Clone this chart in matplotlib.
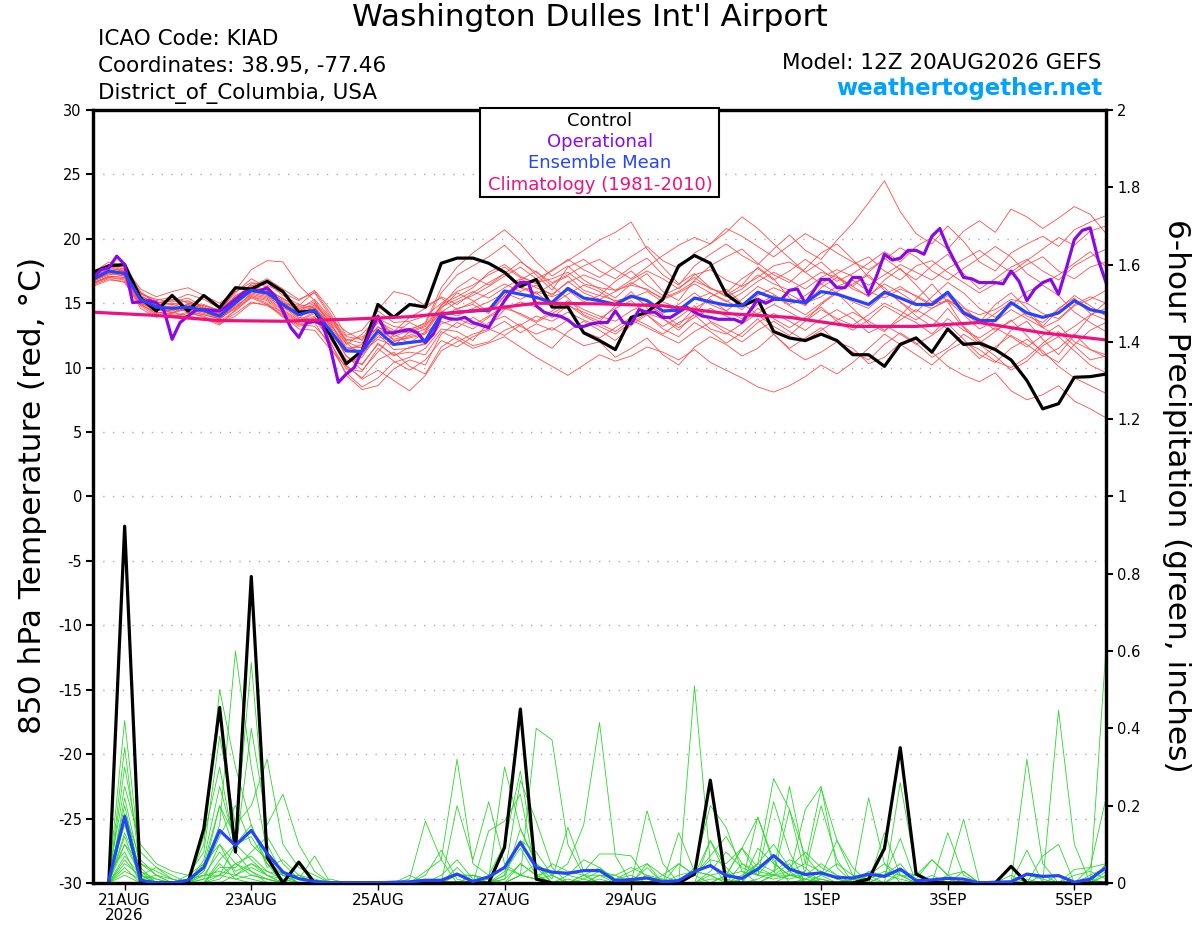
import numpy as np
import matplotlib
matplotlib.use('Agg')
import matplotlib.pyplot as plt
from matplotlib.patches import Rectangle

plt.rcParams['font.family'] = ['DejaVu Sans']
plt.rcParams['axes.unicode_minus'] = False

# x axis in hours after 12Z 20AUG2026
tick_hours = [12, 60, 108, 156, 204, 276, 324, 372]
tick_labels = ['21AUG\n2026', '23AUG', '25AUG', '27AUG', '29AUG', '1SEP', '3SEP', '5SEP']

# 850 hPa temperature, 6-hourly (0..384 h)
control_t = [17.4, 17.9, 18.0, 15.4, 14.4, 15.6, 14.4, 15.6, 14.65, 16.2,
             16.1, 16.7, 15.9, 14.3, 14.4, 12.5, 10.3, 11.3, 14.9, 13.9,
             14.9, 14.7, 18.1, 18.5, 18.5, 18.1, 17.4, 16.3, 16.85, 14.7,
             14.7, 12.7, 12.1, 11.4, 13.9, 14.3, 15.3, 17.9, 18.7, 18.1,
             15.7, 14.8, 15.3, 12.8, 12.3, 12.1, 12.6, 12.1, 11.0, 11.0,
             10.1, 11.8, 12.3, 11.2, 13.0, 11.8, 11.9, 11.4, 10.6, 9.0,
             6.8, 7.2, 9.25, 9.3, 9.5]

mean_t = [16.85, 17.5, 17.3, 15.3, 14.7, 14.6, 14.7, 14.45, 14.0, 15.05,
          16.0, 15.8, 14.9, 14.1, 14.45, 12.85, 11.3, 11.25, 12.85, 11.8,
          11.95, 12.1, 14.15, 14.3, 14.4, 14.45, 15.95, 15.7, 15.45, 15.05,
          16.15, 15.4, 15.2, 14.9, 15.55, 15.2, 14.4, 14.45, 15.4, 15.1,
          14.85, 14.8, 15.85, 15.4, 15.2, 15.05, 15.9, 15.7, 15.3, 14.9,
          15.85, 15.4, 14.9, 14.9, 15.85, 14.25, 13.65, 13.65, 15.05, 14.25,
          13.9, 14.25, 15.2, 14.5, 14.25]

# operational run, 3-hourly (0..384 h)
oper_t = [17.0, 17.6, 17.75, 18.65, 18.0, 15.05, 15.1, 15.2, 15.05, 14.4,
          12.2, 13.5, 14.0, 14.45, 14.5, 14.45, 14.4, 14.8, 15.3, 15.8,
          16.0, 15.95, 16.2, 15.55, 14.4, 13.1, 12.35, 13.5, 13.6, 13.35,
          11.5, 8.85, 9.5, 10.0, 11.3, 12.7, 14.0, 12.7, 12.7, 12.85,
          12.95, 12.7, 11.95, 12.6,
          14.0, 13.8, 13.75, 13.9, 13.5, 13.3, 13.1, 14.2, 15.2, 16.0,
          16.6, 16.6, 14.8, 14.3, 14.1, 14.0, 13.7, 13.2, 13.2, 13.4,
          13.5, 13.5, 14.4, 13.5, 13.4, 14.5, 14.3, 14.3, 13.9, 13.9,
          14.3, 14.7, 14.3, 14.0, 13.9, 13.75, 13.75, 13.75, 13.5, 14.4,
          15.3, 15.0, 15.3, 15.3, 16.0,
          16.1, 15.0, 15.9, 16.85, 16.85, 16.2, 16.2, 17.0, 17.0, 15.7,
          17.1, 18.8, 18.35, 18.5, 19.1, 19.1, 18.8, 20.2, 20.8, 19.3,
          18.1, 17.0, 16.9, 16.6, 16.6, 16.6, 16.5, 17.5, 16.7, 15.2,
          16.1, 16.6, 16.85, 15.7, 17.75, 19.95, 20.65, 20.85, 18.4, 16.6]

# climatology, daily (0..384 h)
clim_t = [14.3, 14.05, 13.65, 13.6, 13.75, 13.95, 14.4, 15.0, 14.95,
          14.8, 14.2, 13.9, 13.2, 13.2, 13.5, 12.7, 12.15]

members_t = [
    [17.2, 18.0, 17.6, 15.8, 15.2, 15.5, 15.0, 14.8, 14.5, 15.8, 16.9, 16.2, 15.3, 14.8, 15.9, 14.2,
     12.0, 11.5, 13.8, 13.2, 13.0, 13.4, 15.8, 17.2, 17.9, 18.6, 19.5, 18.3, 17.2, 16.0, 17.8, 18.4,
     17.5, 16.9, 17.8, 18.5, 17.2, 16.4, 17.9, 18.8, 19.6, 18.7, 18.0, 19.2, 20.3, 19.1, 18.4, 19.9,
     21.2, 22.8, 24.5, 22.1, 20.4, 19.6, 21.0, 19.8, 18.2, 17.5, 18.9, 19.6, 20.2, 19.4, 20.7, 21.3, 21.8],
    [16.5, 17.1, 17.0, 15.0, 14.1, 14.0, 14.3, 13.9, 13.6, 14.4, 15.5, 15.0, 14.0, 13.2, 13.5, 11.6,
     9.6, 8.5, 9.2, 10.4, 10.8, 11.5, 13.0, 12.8, 12.1, 13.5, 14.0, 13.2, 12.6, 13.1, 12.4, 11.7,
     12.0, 10.8, 11.5, 12.3, 11.0, 10.2, 11.6, 12.4, 11.8, 10.9, 11.5, 12.6, 11.4, 10.6, 11.2, 12.0,
     11.5, 10.3, 10.8, 11.9, 12.4, 11.2, 10.1, 9.4, 8.9, 9.6, 8.2, 7.5, 7.9, 8.6, 7.4, 6.8, 6.1],
    [17.0, 17.9, 17.8, 16.1, 15.5, 15.9, 16.2, 15.6, 15.0, 15.9, 16.6, 16.4, 15.8, 15.2, 16.0, 14.5,
     12.5, 12.9, 14.4, 13.5, 13.6, 14.0, 15.0, 15.9, 16.4, 17.2, 17.8, 17.0, 16.6, 16.9, 17.4, 16.5,
     16.2, 16.0, 16.8, 17.5, 16.9, 16.1, 17.2, 17.6, 16.8, 16.3, 17.0, 17.9, 18.2, 17.4, 16.5, 17.3,
     18.0, 18.6, 17.5, 16.8, 17.9, 18.3, 17.4, 16.6, 15.8, 16.5, 17.2, 18.0, 18.6, 17.5, 16.9, 17.8, 18.2],
    [16.8, 17.3, 17.5, 15.6, 14.9, 14.2, 15.0, 14.6, 14.2, 16.0, 17.6, 18.3, 18.2, 16.4, 15.2, 13.1,
     10.9, 9.8, 11.2, 12.6, 13.5, 12.9, 14.6, 15.8, 15.2, 14.3, 15.6, 16.8, 17.5, 16.3, 15.4, 14.1,
     13.6, 14.8, 15.9, 14.6, 13.8, 12.9, 14.2, 15.5, 16.1, 15.0, 14.1, 13.2, 12.5, 13.6, 14.9, 15.8,
     14.6, 13.4, 12.8, 14.0, 15.3, 16.5, 15.1, 13.2, 12.1, 11.4, 12.9, 13.6, 12.2, 11.0, 12.5, 14.0, 15.1],
    [17.1, 17.6, 17.2, 15.1, 14.5, 14.8, 14.3, 14.1, 13.8, 14.6, 15.8, 15.5, 14.7, 13.8, 14.9, 13.7,
     12.2, 11.9, 13.5, 12.6, 11.9, 12.8, 14.9, 15.5, 16.2, 17.4, 18.0, 17.1, 16.5, 17.6, 18.3, 19.1,
     19.9, 20.5, 21.3, 19.2, 17.8, 16.5, 17.3, 16.2, 15.6, 16.4, 17.8, 16.9, 15.4, 14.8, 16.2, 17.0,
     16.3, 15.5, 16.8, 17.7, 16.4, 15.1, 15.9, 14.7, 13.5, 14.9, 15.8, 14.6, 13.2, 14.5, 15.6, 14.8, 14.0],
    [16.6, 17.0, 16.9, 14.9, 14.3, 14.1, 13.9, 13.7, 13.5, 14.2, 15.1, 14.8, 14.1, 13.0, 12.9, 11.4,
     10.1, 9.2, 10.6, 11.2, 10.1, 9.5, 11.6, 12.4, 11.7, 12.0, 12.9, 13.4, 12.2, 11.5, 12.8, 13.6,
     12.9, 12.1, 13.3, 14.1, 13.0, 12.4, 13.5, 12.8, 11.9, 12.7, 13.8, 12.6, 11.5, 12.3, 13.1, 12.0,
     11.2, 10.6, 11.8, 12.7, 11.9, 10.8, 11.5, 12.6, 11.8, 10.9, 9.8, 10.5, 11.7, 12.4, 11.3, 10.2, 9.6],
    [17.4, 18.2, 17.9, 15.9, 15.0, 15.2, 15.7, 15.3, 14.6, 15.4, 16.3, 16.9, 16.1, 15.3, 15.8, 14.0,
     11.8, 12.6, 13.9, 12.4, 12.9, 13.5, 16.2, 17.8, 18.9, 19.8, 20.7, 19.6, 18.2, 17.1, 17.9, 16.8,
     16.1, 15.4, 16.5, 17.3, 15.9, 15.2, 16.8, 17.9, 18.6, 19.2, 18.1, 17.2, 16.6, 17.7, 18.9, 19.6,
     18.4, 17.0, 16.2, 15.1, 14.0, 13.2, 14.6, 13.1, 11.9, 12.8, 13.7, 12.5, 11.1, 10.4, 11.8, 12.9, 13.5],
    [16.9, 17.4, 17.1, 15.4, 14.6, 14.4, 14.9, 14.3, 14.1, 15.2, 15.9, 15.6, 14.6, 14.4, 14.7, 13.3,
     11.9, 11.0, 12.4, 12.0, 12.4, 12.7, 14.4, 14.0, 14.6, 15.1, 15.8, 15.3, 15.9, 15.5, 16.0, 15.1,
     15.6, 15.2, 15.4, 15.9, 15.1, 14.6, 15.3, 15.8, 15.2, 14.5, 15.6, 16.2, 15.7, 15.0, 15.5, 16.3,
     16.8, 15.9, 15.4, 16.1, 15.6, 14.9, 15.2, 14.6, 14.1, 14.5, 15.3, 15.0, 14.2, 13.8, 14.9, 15.5, 15.0],
    [16.4, 16.9, 16.6, 14.8, 14.0, 13.9, 14.2, 14.0, 13.4, 14.0, 15.0, 14.9, 14.3, 13.5, 14.0, 12.0,
     9.4, 8.3, 8.6, 9.9, 10.6, 10.2, 12.6, 13.5, 13.0, 13.9, 14.6, 14.2, 13.6, 14.4, 15.2, 14.5,
     14.0, 13.6, 14.4, 15.0, 14.1, 13.3, 14.6, 15.3, 14.4, 13.8, 14.9, 15.6, 14.8, 14.1, 15.0, 15.9,
     16.5, 17.2, 16.0, 15.1, 14.3, 15.5, 16.6, 15.8, 14.6, 13.9, 14.8, 15.9, 16.4, 15.6, 14.3, 13.5, 12.8],
    [16.7, 17.2, 17.4, 15.2, 14.4, 14.7, 14.5, 14.2, 13.9, 14.8, 15.6, 15.3, 14.4, 13.6, 14.2, 12.5,
     10.6, 10.3, 11.8, 11.0, 11.2, 11.0, 12.8, 12.2, 11.5, 11.9, 12.4, 11.6, 10.8, 10.1, 9.4, 10.2,
     11.0, 10.5, 10.9, 11.6, 11.2, 10.6, 11.4, 10.4, 9.8, 9.2, 8.5, 8.1, 8.6, 9.3, 10.2, 9.5,
     10.4, 11.5, 12.6, 11.8, 11.0, 10.2, 11.3, 12.0, 11.4, 10.5, 10.0, 10.8, 11.9, 12.8, 11.7, 10.6, 10.9],
    [17.3, 17.8, 17.4, 15.5, 15.1, 14.9, 14.6, 14.9, 14.4, 15.5, 16.4, 16.0, 15.2, 14.5, 15.3, 13.9,
     12.4, 12.2, 13.1, 12.8, 13.9, 14.6, 15.5, 14.9, 15.8, 16.6, 17.3, 16.2, 15.7, 16.5, 17.1, 16.0,
     15.6, 16.7, 17.5, 16.4, 15.6, 16.2, 17.0, 16.1, 15.8, 16.9, 17.7, 16.8, 17.5, 18.4, 17.6, 16.7,
     17.3, 18.1, 19.0, 18.2, 19.4, 20.1, 19.2, 20.6, 21.4, 20.5, 22.3, 21.7, 20.8, 21.6, 22.5, 21.9, 20.4],
    [16.6, 17.1, 17.0, 15.1, 14.3, 14.2, 14.6, 14.4, 13.7, 14.9, 15.9, 15.7, 14.8, 13.9, 13.7, 12.2,
     10.4, 10.8, 12.6, 11.4, 11.5, 11.9, 13.6, 13.1, 13.9, 13.2, 14.5, 15.1, 14.7, 13.9, 14.8, 14.3,
     13.8, 14.6, 15.2, 14.1, 13.2, 13.9, 14.8, 13.6, 13.0, 12.4, 13.5, 14.2, 13.6, 12.9, 13.8, 14.5,
     13.8, 12.7, 13.3, 12.6, 11.8, 12.5, 13.4, 12.2, 11.0, 10.4, 11.5, 12.2, 11.3, 10.1, 9.2, 8.6, 8.0],
    [17.0, 17.7, 17.5, 15.7, 15.3, 15.1, 15.4, 14.7, 14.3, 15.6, 16.2, 15.9, 15.4, 14.6, 14.8, 13.6,
     12.1, 12.4, 13.0, 12.2, 12.5, 13.0, 14.3, 15.1, 15.6, 16.3, 17.1, 17.8, 16.9, 17.5, 18.4, 17.6,
     17.0, 17.8, 18.6, 19.4, 18.3, 17.7, 18.9, 19.6, 20.5, 21.7, 20.8, 19.6, 18.5, 17.4, 18.2, 17.1,
     16.3, 17.4, 18.5, 17.6, 16.8, 17.9, 18.8, 17.3, 16.1, 16.9, 17.8, 18.4, 17.5, 16.8, 17.9, 18.6, 19.2],
    [16.3, 16.8, 16.7, 14.6, 13.9, 14.3, 14.0, 13.8, 13.3, 14.5, 15.4, 14.9, 13.9, 13.4, 13.2, 11.9,
     9.9, 9.7, 11.5, 10.5, 9.8, 10.6, 12.1, 11.6, 12.4, 12.9, 13.6, 12.7, 13.4, 12.9, 13.7, 12.8,
     12.3, 13.1, 13.9, 13.3, 12.6, 13.5, 14.1, 13.0, 12.6, 13.4, 14.6, 13.8, 13.1, 13.9, 14.7, 13.6,
     12.9, 13.7, 14.8, 14.1, 13.5, 12.6, 13.8, 12.9, 12.3, 13.1, 12.4, 11.6, 12.5, 13.3, 12.0, 11.4, 10.8],
    [17.1, 17.6, 17.3, 15.3, 14.8, 14.5, 14.9, 14.6, 14.2, 14.9, 16.1, 15.7, 15.0, 14.3, 14.6, 13.2,
     11.5, 11.6, 13.2, 12.1, 12.3, 12.6, 13.9, 14.6, 14.9, 14.2, 15.5, 16.3, 15.8, 14.9, 15.7, 16.4,
     15.9, 15.1, 15.6, 14.8, 14.2, 14.9, 15.8, 14.9, 14.4, 15.3, 16.3, 15.7, 14.9, 15.6, 16.5, 15.8,
     15.1, 14.6, 15.7, 16.3, 15.5, 14.8, 15.6, 14.2, 13.4, 14.2, 15.1, 14.0, 13.5, 14.6, 15.4, 14.2, 13.7],
    [16.8, 17.5, 17.7, 15.8, 15.0, 15.3, 15.1, 14.8, 14.4, 15.3, 16.5, 16.6, 15.6, 14.9, 14.6, 13.4,
     11.6, 11.2, 12.2, 11.7, 12.8, 13.3, 14.8, 16.2, 17.0, 16.4, 17.3, 18.2, 17.4, 16.6, 17.2, 17.9,
     18.4, 17.6, 16.9, 17.8, 18.7, 19.5, 20.1, 19.6, 20.8, 20.2, 19.4, 18.6, 19.5, 20.4, 19.7, 18.9,
     18.2, 17.6, 18.4, 19.3, 18.6, 17.5, 16.8, 17.7, 18.5, 19.4, 18.6, 17.3, 16.5, 17.2, 18.1, 19.0, 17.8],
    [16.5, 17.0, 16.8, 14.9, 14.2, 14.5, 14.4, 14.1, 13.8, 14.6, 15.5, 15.2, 14.2, 13.3, 13.9, 12.6,
     10.2, 9.1, 9.8, 9.0, 8.2, 9.4, 11.3, 12.0, 12.6, 13.0, 12.5, 13.3, 14.0, 13.6, 14.3, 13.7,
     13.2, 12.6, 13.5, 14.2, 13.8, 13.1, 13.9, 14.6, 14.0, 13.4, 14.2, 14.9, 14.3, 13.6, 14.5, 13.8,
     13.3, 14.1, 15.0, 14.4, 13.7, 14.6, 15.3, 14.4, 13.8, 12.9, 13.6, 14.3, 13.1, 12.4, 13.2, 14.1, 14.6],
    [17.2, 17.9, 17.5, 15.4, 14.9, 15.0, 14.7, 14.5, 14.3, 15.1, 16.0, 15.9, 15.0, 14.7, 15.1, 13.8,
     12.8, 12.1, 14.5, 15.9, 15.6, 14.8, 15.4, 14.5, 15.1, 15.8, 16.5, 15.9, 16.4, 15.6, 16.7, 15.8,
     15.3, 15.9, 16.6, 16.0, 15.4, 15.9, 16.7, 16.2, 15.5, 16.1, 17.2, 16.5, 16.0, 16.6, 17.4, 17.0,
     16.1, 15.6, 16.5, 15.8, 15.0, 14.6, 15.2, 14.1, 13.0, 13.6, 14.5, 13.8, 13.1, 13.7, 14.8, 15.3, 16.0],
    [16.7, 17.3, 17.1, 15.0, 14.5, 14.3, 14.6, 14.3, 13.9, 14.7, 15.7, 15.4, 14.5, 13.7, 14.3, 12.8,
     10.9, 10.2, 11.9, 10.9, 11.6, 11.8, 13.4, 13.8, 13.3, 14.0, 14.8, 14.1, 13.5, 14.2, 14.9, 14.0,
     13.4, 12.8, 13.7, 13.1, 12.5, 11.9, 12.8, 13.5, 12.7, 12.0, 12.9, 13.6, 12.8, 12.1, 12.9, 13.7,
     14.3, 13.6, 12.9, 13.7, 14.5, 13.8, 13.0, 11.9, 10.7, 11.6, 12.5, 11.8, 10.9, 11.5, 12.6, 11.4, 11.0],
    [17.0, 17.5, 17.4, 15.6, 14.8, 14.9, 15.2, 14.6, 14.1, 15.4, 16.2, 16.0, 15.1, 14.4, 15.0, 13.5,
     11.4, 11.8, 13.6, 12.9, 12.7, 13.2, 14.7, 15.3, 15.9, 15.4, 16.2, 16.9, 16.2, 15.7, 16.6, 17.2,
     16.7, 16.0, 16.4, 16.1, 15.3, 15.8, 16.5, 15.8, 15.1, 15.8, 16.7, 17.4, 16.8, 16.1, 17.0, 17.6,
     17.1, 16.4, 17.2, 18.0, 17.4, 16.8, 17.7, 18.4, 19.1, 18.2, 17.4, 18.3, 19.2, 20.1, 19.5, 20.6, 21.0],
]

# 6-hour precipitation (inches), 6..384 h
control_p = [0, 0.923, 0, 0, 0, 0, 0.14, 0.454, 0.08, 0.793, 0.067, 0, 0.054, 0, 0, 0,
             0, 0, 0, 0, 0, 0, 0, 0, 0, 0.092, 0.45, 0.01, 0, 0, 0, 0,
             0, 0, 0, 0, 0, 0.023, 0.266, 0, 0, 0, 0, 0, 0, 0, 0, 0,
             0.01, 0.089, 0.35, 0.023, 0.002, 0, 0, 0, 0, 0.043, 0, 0, 0, 0, 0, 0]

mean_p = [0.007, 0.172, 0.007, 0, 0, 0.007, 0.04, 0.136, 0.097, 0.136, 0.076, 0.028, 0.011, 0.004, 0, 0,
          0, 0, 0.002, 0.003, 0.007, 0.007, 0.023, 0.004, 0.016, 0.04, 0.105, 0.04, 0.028, 0.025, 0.032, 0.032,
          0.006, 0.009, 0.013, 0.003, 0.006, 0.03, 0.045, 0.019, 0.012, 0.036, 0.071, 0.036, 0.022, 0.026, 0.014, 0.013,
          0.023, 0.017, 0.036, 0.006, 0.008, 0.012, 0.01, 0, 0.002, 0.003, 0.023, 0.017, 0.019, 0.002, 0.01, 0.04]

members_p = [
    [0.01, 0.42, 0.05, 0.02, 0, 0, 0.05, 0.2, 0.12, 0.57, 0.1, 0.02, 0, 0, 0, 0,
     0, 0, 0, 0, 0.03, 0.06, 0.32, 0.05, 0.02, 0.1, 0.29, 0.04, 0, 0, 0.02, 0,
     0, 0.01, 0, 0.02, 0, 0, 0.11, 0.04, 0, 0.05, 0.27, 0.19, 0.02, 0, 0, 0.01,
     0, 0, 0.02, 0, 0, 0, 0.03, 0, 0, 0, 0.32, 0.05, 0, 0, 0.04, 0.22],
    [0, 0.35, 0.03, 0, 0, 0.01, 0.1, 0.5, 0.3, 0.15, 0.05, 0, 0.02, 0, 0, 0,
     0, 0, 0, 0, 0, 0, 0.2, 0.06, 0.21, 0.05, 0.02, 0.4, 0.37, 0.1, 0.02, 0,
     0, 0, 0.02, 0, 0.05, 0.02, 0, 0.02, 0.09, 0.17, 0.05, 0.02, 0.19, 0.25, 0.04, 0,
     0.02, 0, 0, 0, 0, 0, 0, 0, 0, 0, 0, 0, 0.447, 0.1, 0, 0.05],
    [0, 0.3, 0.08, 0.04, 0.01, 0, 0.04, 0.15, 0.6, 0.3, 0.08, 0.03, 0, 0, 0, 0,
     0, 0, 0, 0.02, 0, 0, 0, 0, 0.01, 0.3, 0.14, 0.05, 0.02, 0.05, 0.15, 0.415,
     0.07, 0, 0, 0, 0, 0, 0, 0, 0.05, 0.02, 0.21, 0.08, 0, 0.02, 0.11, 0.04,
     0, 0.02, 0.115, 0, 0, 0, 0, 0, 0, 0, 0, 0, 0.02, 0, 0, 0.61],
    [0.02, 0.25, 0.1, 0.05, 0.03, 0.02, 0.08, 0.38, 0.15, 0.2, 0.32, 0.1, 0.04, 0.02, 0, 0,
     0, 0, 0, 0, 0.01, 0, 0.04, 0, 0.135, 0.16, 0.23, 0.02, 0, 0, 0, 0.02,
     0, 0, 0.187, 0.05, 0, 0.04, 0.2, 0.144, 0.03, 0, 0.02, 0.05, 0, 0.01, 0, 0,
     0.22, 0.05, 0, 0, 0, 0.13, 0.02, 0, 0, 0, 0.085, 0, 0, 0, 0, 0.03],
    [0, 0.22, 0.04, 0, 0, 0, 0.12, 0.3, 0.08, 0.4, 0.15, 0.23, 0.1, 0.03, 0, 0,
     0, 0, 0, 0, 0, 0.02, 0.06, 0.01, 0, 0.02, 0.265, 0.16, 0.04, 0, 0, 0.01,
     0, 0, 0, 0, 0, 0.51, 0.05, 0, 0.02, 0.05, 0.03, 0.25, 0.05, 0.245, 0.11, 0.02,
     0, 0.13, 0.02, 0, 0, 0, 0, 0, 0, 0, 0, 0.07, 0.1, 0, 0, 0],
    [0.01, 0.2, 0.02, 0.01, 0, 0, 0.06, 0.25, 0.1, 0.06, 0.02, 0.01, 0, 0, 0, 0,
     0, 0, 0, 0, 0, 0, 0, 0, 0, 0.01, 0.14, 0.05, 0.01, 0.144, 0.03, 0.075,
     0.075, 0.07, 0.01, 0, 0.13, 0.03, 0.02, 0, 0, 0.09, 0.05, 0.02, 0.03, 0.2, 0.06, 0,
     0, 0, 0.26, 0.03, 0, 0, 0, 0, 0, 0, 0, 0, 0, 0.035, 0.04, 0.05],
    [0, 0.18, 0.06, 0.02, 0.01, 0, 0.03, 0.12, 0.2, 0.1, 0.06, 0.02, 0.01, 0.07, 0, 0,
     0, 0, 0, 0, 0, 0, 0, 0, 0, 0, 0.02, 0.01, 0, 0, 0.02, 0.02,
     0.01, 0.03, 0.05, 0, 0, 0.02, 0.11, 0.02, 0.09, 0.04, 0.02, 0.03, 0, 0.02, 0.05, 0.02,
     0.01, 0.03, 0.02, 0.02, 0.06, 0.02, 0.165, 0, 0, 0, 0.01, 0, 0, 0, 0, 0],
    [0, 0.16, 0, 0, 0, 0.02, 0.05, 0.1, 0.05, 0.03, 0.01, 0, 0, 0, 0, 0,
     0, 0, 0, 0, 0.02, 0.085, 0.01, 0, 0, 0, 0.05, 0.02, 0.03, 0.02, 0.01, 0.03,
     0.02, 0.04, 0.02, 0.01, 0, 0, 0.02, 0.03, 0, 0.17, 0.06, 0, 0.01, 0.03, 0.01, 0,
     0.03, 0.02, 0.05, 0, 0.02, 0, 0, 0, 0, 0.02, 0, 0, 0, 0.02, 0.03, 0.01],
    [0.02, 0.15, 0.02, 0, 0, 0, 0.02, 0.08, 0.03, 0.05, 0.02, 0, 0, 0, 0.01, 0,
     0, 0, 0, 0.01, 0.16, 0.06, 0, 0, 0, 0.01, 0.05, 0.02, 0, 0.01, 0, 0,
     0, 0, 0, 0, 0, 0, 0.03, 0.08, 0.04, 0.02, 0.02, 0.19, 0.07, 0.02, 0, 0.01,
     0.01, 0, 0, 0, 0, 0.02, 0.03, 0, 0, 0, 0, 0, 0, 0, 0, 0.02],
    [0, 0.13, 0.03, 0.01, 0, 0, 0, 0.06, 0.1, 0.12, 0.05, 0.02, 0.02, 0, 0, 0,
     0, 0, 0, 0, 0, 0, 0.02, 0.02, 0, 0.02, 0.11, 0.08, 0.02, 0, 0, 0.02,
     0.02, 0, 0.05, 0.02, 0.05, 0.02, 0.07, 0.12, 0.05, 0.03, 0.02, 0.01, 0.02, 0.05, 0.02, 0.01,
     0, 0.02, 0.01, 0, 0, 0, 0, 0, 0, 0, 0, 0, 0, 0, 0.01, 0],
    [0, 0.12, 0.01, 0.02, 0, 0, 0, 0.04, 0.04, 0.08, 0.12, 0.05, 0.01, 0, 0, 0,
     0, 0, 0, 0, 0, 0, 0, 0, 0, 0, 0.02, 0.05, 0, 0.02, 0.06, 0.04,
     0.01, 0.02, 0, 0, 0.01, 0.02, 0.06, 0.05, 0.09, 0.02, 0.01, 0.02, 0.02, 0.01, 0, 0,
     0.02, 0.05, 0.02, 0.01, 0.06, 0.02, 0, 0, 0, 0, 0.02, 0.01, 0, 0, 0, 0],
    [0.01, 0.1, 0.02, 0, 0, 0, 0.02, 0.02, 0.1, 0.15, 0.04, 0.06, 0.02, 0.01, 0, 0,
     0, 0, 0, 0, 0, 0, 0, 0, 0, 0, 0, 0, 0, 0, 0, 0,
     0, 0, 0.04, 0, 0, 0, 0, 0, 0.01, 0.05, 0.1, 0.04, 0.08, 0.04, 0.02, 0,
     0, 0, 0.03, 0.02, 0, 0, 0, 0, 0, 0, 0, 0, 0, 0, 0, 0.02],
    [0, 0.1, 0.05, 0.03, 0.01, 0, 0, 0.01, 0.05, 0.07, 0.03, 0.02, 0, 0, 0, 0,
     0, 0, 0, 0, 0, 0, 0.02, 0.02, 0.01, 0.04, 0.02, 0.01, 0.05, 0.03, 0.02, 0.04,
     0, 0.01, 0, 0, 0, 0, 0, 0.02, 0.03, 0.02, 0.07, 0.03, 0.05, 0.03, 0.01, 0,
     0, 0, 0, 0, 0, 0, 0, 0, 0, 0, 0, 0, 0, 0, 0.02, 0.04],
    [0.03, 0.08, 0, 0, 0, 0.01, 0.02, 0.03, 0.02, 0.04, 0.02, 0, 0, 0, 0, 0,
     0, 0, 0, 0, 0, 0, 0, 0.02, 0.01, 0, 0.02, 0.01, 0.02, 0, 0.01, 0,
     0, 0, 0, 0.01, 0, 0, 0.01, 0.01, 0, 0.01, 0.03, 0.06, 0.04, 0, 0, 0,
     0, 0, 0, 0, 0, 0.01, 0, 0, 0, 0, 0, 0.02, 0, 0, 0, 0],
    [0, 0.07, 0.02, 0, 0, 0, 0.01, 0.02, 0.05, 0.02, 0.01, 0, 0, 0, 0, 0,
     0, 0, 0, 0, 0, 0, 0, 0, 0, 0, 0, 0, 0, 0, 0, 0,
     0, 0, 0, 0, 0.02, 0.03, 0.02, 0, 0, 0, 0.02, 0.02, 0.01, 0, 0, 0,
     0, 0, 0, 0, 0, 0, 0, 0, 0, 0, 0, 0, 0, 0, 0, 0],
    [0, 0.06, 0.01, 0, 0, 0, 0, 0, 0.02, 0.05, 0.03, 0.01, 0, 0, 0, 0,
     0, 0, 0, 0, 0, 0, 0, 0, 0, 0.03, 0.09, 0.02, 0, 0, 0, 0,
     0, 0, 0, 0, 0, 0, 0, 0, 0, 0, 0, 0, 0, 0, 0, 0,
     0, 0, 0, 0, 0, 0, 0, 0, 0, 0, 0, 0, 0, 0, 0, 0],
    [0, 0.05, 0.02, 0.04, 0.02, 0, 0, 0.02, 0.01, 0.02, 0.01, 0, 0, 0, 0, 0,
     0, 0, 0, 0, 0, 0, 0, 0, 0, 0, 0, 0, 0, 0, 0, 0,
     0, 0, 0, 0, 0, 0, 0, 0, 0, 0, 0, 0.02, 0.01, 0, 0, 0,
     0, 0, 0, 0, 0, 0, 0, 0, 0, 0, 0, 0, 0, 0, 0, 0],
    [0, 0.04, 0, 0, 0, 0, 0.03, 0.2, 0.08, 0.03, 0, 0, 0, 0, 0, 0,
     0, 0, 0, 0, 0, 0, 0, 0, 0, 0, 0, 0, 0, 0, 0, 0,
     0, 0, 0, 0, 0, 0, 0, 0, 0, 0, 0, 0, 0, 0, 0, 0,
     0, 0, 0, 0, 0, 0, 0, 0, 0, 0, 0, 0, 0, 0, 0, 0],
    [0, 0.03, 0.01, 0, 0, 0, 0.01, 0.1, 0.02, 0.01, 0, 0, 0, 0, 0, 0,
     0, 0, 0, 0, 0, 0, 0, 0, 0, 0, 0, 0, 0, 0, 0, 0,
     0, 0, 0, 0, 0, 0, 0, 0, 0, 0, 0, 0, 0, 0, 0, 0,
     0, 0, 0, 0, 0, 0, 0, 0, 0, 0, 0, 0, 0, 0, 0, 0],
    [0, 0.02, 0, 0, 0, 0, 0, 0.05, 0.01, 0, 0, 0, 0, 0, 0, 0,
     0, 0, 0, 0, 0, 0, 0, 0, 0, 0, 0, 0, 0, 0, 0, 0,
     0, 0, 0, 0, 0, 0, 0, 0, 0, 0, 0, 0, 0, 0, 0, 0,
     0, 0, 0, 0, 0, 0, 0, 0, 0, 0, 0, 0, 0, 0, 0, 0],
]

hours6 = np.arange(0, 385, 6)
hours3 = np.arange(0, 385, 3)
hours24 = np.arange(0, 385, 24)
hours_p = np.arange(6, 385, 6)

c_red = '#ff4d4d'
c_green = '#2ad82a'
c_purple = '#8a0ae6'
c_blue = '#2444ff'
c_pink = '#f0107f'

fig = plt.figure(figsize=(12, 9.27), dpi=100)
ax = fig.add_axes([0.0775, 0.0475, 0.8442, 0.8339])
ax.set_xlim(0, 384)
ax.set_ylim(-30, 30)

for v in range(-25, 30, 5):
    ax.axhline(v, color='#aaaaaa', lw=1.0, ls=(0, (1, 6)), zorder=0)

for m in members_t:
    ax.plot(hours6, m, color=c_red, lw=0.6, zorder=2)
ax.plot(hours6, control_t, color='black', lw=2.3, zorder=3)
ax.plot(hours3, oper_t, color=c_purple, lw=2.3, zorder=4)
ax.plot(hours6, mean_t, color=c_blue, lw=2.3, zorder=5)
ax.plot(hours24, clim_t, color=c_pink, lw=2.3, zorder=6)

ax.set_yticks(range(-30, 31, 5))
ax.set_xticks(tick_hours)
ax.set_xticklabels(tick_labels, fontsize=11, linespacing=1.0)
ax.tick_params(axis='y', direction='out', length=5, width=1.5, labelsize=10.5, pad=3)
ax.tick_params(axis='x', direction='out', length=5, width=1.0, labelsize=11, pad=2)
for s in ax.spines.values():
    s.set_linewidth(2.3)

ax2 = ax.twinx()
ax2.set_ylim(0, 2)
for m in members_p:
    ax2.plot(hours_p, m, color=c_green, lw=0.6, zorder=2)
ax2.plot(hours_p, control_p, color='black', lw=2.3, zorder=3)
ax2.plot(hours_p, mean_p, color=c_blue, lw=2.3, zorder=4)
ax2.set_yticks(np.arange(0, 2.01, 0.2))
ax2.set_yticklabels(['0', '0.2', '0.4', '0.6', '0.8', '1', '1.2', '1.4', '1.6', '1.8', '2'])
ax2.tick_params(axis='y', direction='out', length=5, width=1.5, labelsize=10.5, pad=3)
for s in ax2.spines.values():
    s.set_linewidth(2.3)

fig.text(33 / 1200, 1 - 495 / 927, '850 hPa Temperature (red, °C)', rotation=90,
         ha='center', va='center', fontsize=22.5)
fig.text(1176 / 1200, 1 - 496 / 927, '6-hour Precipitation (green, inches)', rotation=270,
         ha='center', va='center', fontsize=22.5)

fig.text(590 / 1200, 1 - 18 / 927, "Washington Dulles Int'l Airport", ha='center', va='center', fontsize=22.5)
fig.text(98 / 1200, 1 - 39 / 927, 'ICAO Code: KIAD', ha='left', va='center', fontsize=15.5)
fig.text(98 / 1200, 1 - 66 / 927, 'Coordinates: 38.95, -77.46', ha='left', va='center', fontsize=15.5)
fig.text(98 / 1200, 1 - 93 / 927, 'District_of_Columbia, USA', ha='left', va='center', fontsize=15.5)
fig.text(1102 / 1200, 1 - 63 / 927, 'Model: 12Z 20AUG2026 GEFS', ha='right', va='center', fontsize=15.5)
fig.text(1102 / 1200, 1 - 89 / 927, 'weathertogether.net', ha='right', va='center', fontsize=16.5,
         fontweight='bold', color='#00a2ff')

# legend box
fig.add_artist(Rectangle((480 / 1200, 1 - 197 / 927), 239 / 1200, 89 / 927, transform=fig.transFigure,
                         facecolor='white', edgecolor='black', lw=1.5, zorder=10))
leg_items = [('Control', 'black', 121), ('Operational', c_purple, 142),
             ('Ensemble Mean', c_blue, 163), ('Climatology (1981-2010)', c_pink, 185)]
for txt, col, ypix in leg_items:
    fig.text(600 / 1200, 1 - ypix / 927, txt, ha='center', va='center', fontsize=13, color=col, zorder=11)

fig.savefig('out.png', dpi=100)
